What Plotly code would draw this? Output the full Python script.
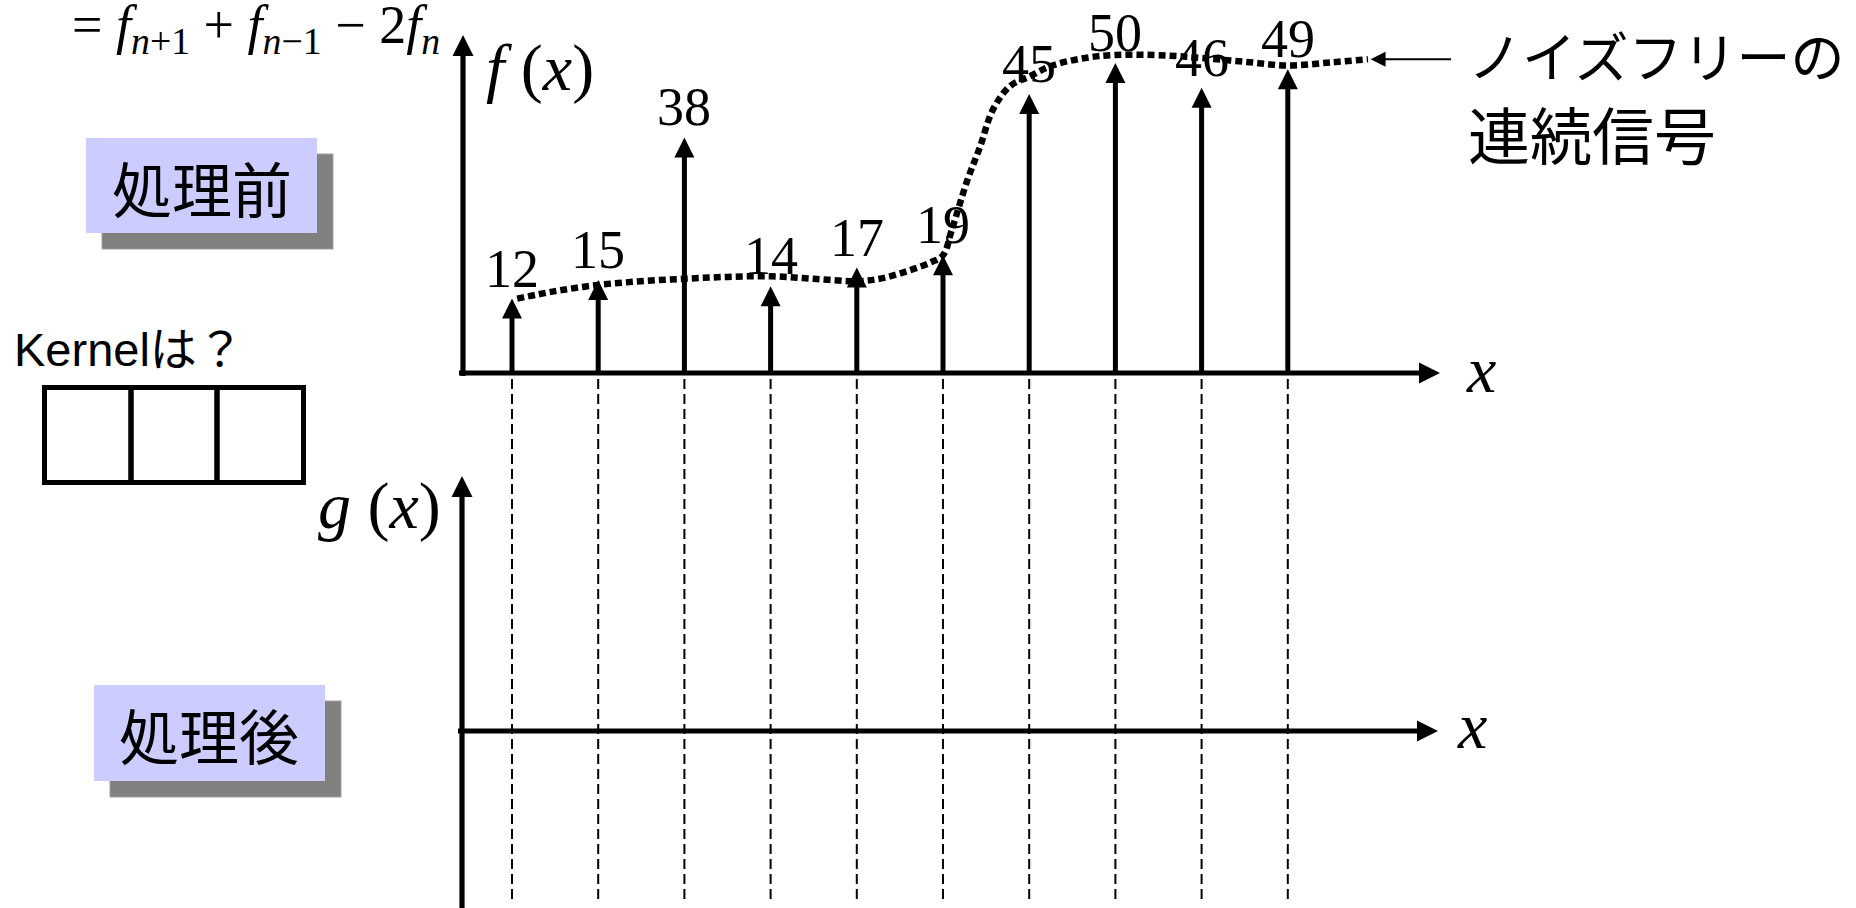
import plotly.graph_objects as go

W, H = 1856, 908

# ---------------- data ----------------
sample_n = [0, 1, 2, 3, 4, 5, 6, 7, 8, 9]
f_values = [12, 15, 38, 14, 17, 19, 45, 50, 46, 49]
f_labels = ["12", "15", "38", "14", "17", "19", "45", "50", "46", "49"]

# noise-free continuous signal (dotted curve)
signal_n = [0.06, 0.5, 1.0, 1.5, 2.0, 2.5, 3.0, 3.5, 4.0, 4.3, 4.6, 4.85, 5.0,
            5.1, 5.28, 5.43, 5.58, 5.78, 6.0, 6.25, 6.6, 7.0, 7.6, 8.0, 8.5,
            9.0, 9.5, 9.93]
signal_f = [12.0, 13.2, 14.2, 14.8, 15.2, 15.5, 15.6, 15.2, 14.8, 15.3, 16.5, 17.8, 19.0,
            23.0, 31.0, 36.5, 42.5, 46.3, 47.8, 49.5, 50.7, 51.3, 51.2, 50.8, 50.2,
            49.6, 50.1, 50.6]

# ---------------- layout constants (pixel geometry) ----------------
PX_N0, PX_DN = 512.0, 86.2        # pixel x of sample 0, pixel step per sample
PX_F0, PX_UNIT = 373.0, 6.2       # pixel y of f=0 (upper axis), pixels per unit
PX_G0 = 731.0                     # pixel y of g=0 (lower axis)


def n_of(px):
    return (px - PX_N0) / PX_DN


def f_of(py_):
    return (PX_F0 - py_) / PX_UNIT


def g_of(py_):
    return (PX_G0 - py_) / PX_UNIT


def xp(px):
    return px / W


def yp(py_):
    return 1 - py_ / H


SERIF = "Liberation Serif, Times New Roman, serif"
SANS = "Liberation Sans, Arial, Noto Sans CJK JP, sans-serif"
CJK = "Noto Sans CJK JP, sans-serif"

fig = go.Figure()

# dashed guide lines under each sample
gx, gy = [], []
for n in sample_n:
    gx += [n, n, None]
    gy += [f_of(379), f_of(900), None]
fig.add_trace(go.Scatter(x=gx, y=gy, mode="lines",
                         line=dict(color="black", width=2, dash="10px,5px"),
                         hoverinfo="skip"))

# upper axes
AX_W = 5.2
ARW = 21
fig.add_trace(go.Scatter(x=[n_of(459), n_of(1430)], y=[0, 0], mode="lines",
                         line=dict(color="black", width=AX_W), hoverinfo="skip"))
fig.add_trace(go.Scatter(x=[n_of(463), n_of(463)], y=[f_of(376), f_of(45)], mode="lines",
                         line=dict(color="black", width=AX_W), hoverinfo="skip"))
fig.add_trace(go.Scatter(x=[n_of(1440)], y=[0], mode="markers",
                         marker=dict(symbol="arrow-right", size=ARW, color="black"),
                         hoverinfo="skip"))
fig.add_trace(go.Scatter(x=[n_of(463)], y=[f_of(35)], mode="markers",
                         marker=dict(symbol="arrow-up", size=ARW, color="black"),
                         hoverinfo="skip"))

# lower axes (second y axis)
fig.add_trace(go.Scatter(x=[n_of(458), n_of(1428)], y=[0, 0], mode="lines", yaxis="y2",
                         line=dict(color="black", width=AX_W), hoverinfo="skip"))
fig.add_trace(go.Scatter(x=[n_of(462), n_of(462)], y=[g_of(910), g_of(486)], mode="lines",
                         yaxis="y2", line=dict(color="black", width=AX_W), hoverinfo="skip"))
fig.add_trace(go.Scatter(x=[n_of(1438)], y=[0], mode="markers", yaxis="y2",
                         marker=dict(symbol="arrow-right", size=ARW, color="black"),
                         hoverinfo="skip"))
fig.add_trace(go.Scatter(x=[n_of(462)], y=[g_of(476)], mode="markers", yaxis="y2",
                         marker=dict(symbol="arrow-up", size=ARW, color="black"),
                         hoverinfo="skip"))

# noise-free continuous signal (dotted)
fig.add_trace(go.Scatter(x=signal_n, y=signal_f, mode="lines",
                         line=dict(color="black", width=6.5, dash="7px,4px",
                                   shape="spline", smoothing=1.0),
                         hoverinfo="skip"))

# stems
sx, sy = [], []
for n, v in zip(sample_n, f_values):
    sx += [n, n, None]
    sy += [0, v - 1.5, None]
fig.add_trace(go.Scatter(x=sx, y=sy, mode="lines",
                         line=dict(color="black", width=5), hoverinfo="skip"))
fig.add_trace(go.Scatter(x=sample_n, y=f_values, mode="markers",
                         marker=dict(symbol="arrow-up", size=20, color="black"),
                         hoverinfo="skip"))

shapes = []
# label boxes with drop shadow
for (x0, y0, x1, y1) in [(86, 138, 317, 233), (94, 685, 325, 781)]:
    shapes.append(dict(type="rect", xref="paper", yref="paper",
                       x0=xp(x0 + 16), x1=xp(x1 + 16), y0=yp(y0 + 16), y1=yp(y1 + 16),
                       fillcolor="#808080", line=dict(color="#a0a0a0", width=1), layer="below"))
    shapes.append(dict(type="rect", xref="paper", yref="paper",
                       x0=xp(x0), x1=xp(x1), y0=yp(y0), y1=yp(y1),
                       fillcolor="#CCCCFF", line=dict(width=0), layer="below"))
# kernel cells
cells = [44.5, 131, 217, 303.5]
for i in range(3):
    shapes.append(dict(type="rect", xref="paper", yref="paper",
                       x0=xp(cells[i]), x1=xp(cells[i + 1]), y0=yp(387.5), y1=yp(482.5),
                       fillcolor="rgba(0,0,0,0)", line=dict(color="black", width=5)))

annotations = []
# value labels above the stems
for n, v, lab in zip(sample_n, f_values, f_labels):
    annotations.append(dict(text=lab, xref="x", yref="y", x=n, y=v, xanchor="center",
                            yanchor="bottom", yshift=-2, showarrow=False,
                            font=dict(family=SERIF, size=54, color="black")))

annotations += [
    dict(text="= <i>f</i><sub><i>n</i>+1</sub> + <i>f</i><sub><i>n</i>−1</sub> − 2<i>f</i><sub><i>n</i></sub>",
         xref="paper", yref="paper", x=xp(70), y=yp(28), xanchor="left", yanchor="middle",
         showarrow=False, font=dict(family=SERIF, size=54, color="black")),
    dict(text="<i>f</i> (<i>x</i>)", xref="paper", yref="paper", x=xp(540), y=yp(68),
         xanchor="center", yanchor="middle", showarrow=False,
         font=dict(family=SERIF, size=66, color="black")),
    dict(text="<i>g</i> (<i>x</i>)", xref="paper", yref="paper", x=xp(379), y=yp(506),
         xanchor="center", yanchor="middle", showarrow=False,
         font=dict(family=SERIF, size=66, color="black")),
    dict(text="<i>x</i>", xref="paper", yref="paper", x=xp(1481), y=yp(369),
         xanchor="center", yanchor="middle", showarrow=False,
         font=dict(family=SERIF, size=66, color="black")),
    dict(text="<i>x</i>", xref="paper", yref="paper", x=xp(1472), y=yp(725),
         xanchor="center", yanchor="middle", showarrow=False,
         font=dict(family=SERIF, size=66, color="black")),
    dict(text="処理前", xref="paper", yref="paper", x=xp(202), y=yp(186),
         xanchor="center", yanchor="middle", showarrow=False,
         font=dict(family=CJK, size=60, color="black")),
    dict(text="処理後", xref="paper", yref="paper", x=xp(209), y=yp(733),
         xanchor="center", yanchor="middle", showarrow=False,
         font=dict(family=CJK, size=60, color="black")),
    dict(text="Kernelは？", xref="paper", yref="paper", x=xp(12), y=yp(349),
         xanchor="left", yanchor="middle", showarrow=False,
         font=dict(family=SANS, size=47, color="black")),
    dict(text="ノイズフリーの", xref="paper", yref="paper", x=xp(1466), y=yp(54),
         xanchor="left", yanchor="middle", showarrow=False,
         font=dict(family=CJK, size=54, color="black")),
    dict(text="連続信号", xref="paper", yref="paper", x=xp(1466), y=yp(133),
         xanchor="left", yanchor="middle", showarrow=False,
         font=dict(family=CJK, size=62, color="black")),
    # pointer arrow to the continuous signal
    dict(text="", xref="x", yref="y", x=signal_n[-1] + 0.03, y=signal_f[-1],
         ax=82, ay=0, showarrow=True, arrowhead=2, arrowsize=1.5, arrowwidth=2,
         arrowcolor="black", standoff=0),
]

fig.update_layout(
    width=W, height=H, autosize=False,
    margin=dict(l=0, r=0, t=0, b=0, pad=0),
    paper_bgcolor="white", plot_bgcolor="white",
    showlegend=False,
    xaxis=dict(range=[n_of(0), n_of(W)], visible=False, fixedrange=True),
    yaxis=dict(range=[f_of(H), f_of(0)], visible=False, fixedrange=True),
    yaxis2=dict(range=[g_of(H), g_of(0)], visible=False, overlaying="y", fixedrange=True),
    shapes=shapes,
    annotations=annotations,
)

fig.write_html("out.html", config={"displayModeBar": False},
               post_script="document.body.style.margin='0';document.body.style.overflow='hidden';")
